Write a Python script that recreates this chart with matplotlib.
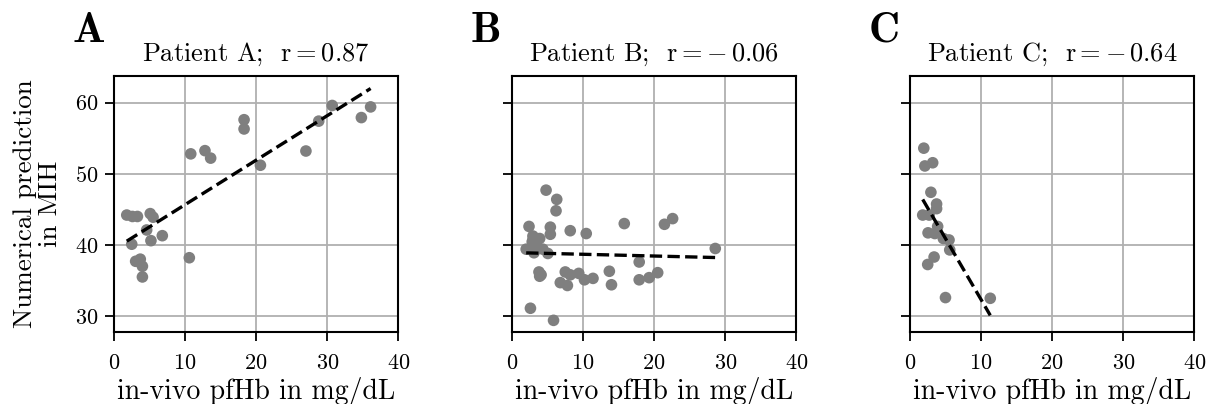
import numpy as np
import matplotlib
matplotlib.use("Agg")
import matplotlib.pyplot as plt

plt.rcParams.update({
	'font.family': 'serif',
	'font.serif': ['cmr10'],
	'mathtext.fontset': 'cm',
	'axes.formatter.use_mathtext': True,
	'font.size': 19,
})

# patient A
xa = [1.8, 2.6, 3.3, 5.1, 5.5, 4.6, 5.2, 6.8, 2.5, 3.05, 3.7, 4.0, 4.0, 10.6,
	10.8, 12.8, 13.6, 18.3, 18.3, 20.6, 27.0, 28.8, 30.7, 34.8, 36.1]
ya = [44.2, 44.0, 44.0, 44.4, 43.9, 42.1, 40.6, 41.3, 40.1, 37.7, 38.0, 37.0, 35.5, 38.2,
	52.8, 53.25, 52.2, 57.6, 56.3, 51.2, 53.2, 57.4, 59.6, 57.9, 59.4]
# patient B
xb = [4.8, 6.3, 6.2, 2.4, 5.4, 5.4, 2.95, 3.9, 2.85, 8.2, 10.45, 15.8, 21.45, 22.6,
	2.0, 3.1, 5.05, 3.5, 3.4, 4.35, 3.0, 28.6, 17.9, 3.8, 4.1, 3.9, 7.5, 8.2, 9.4, 10.2, 11.4,
	13.7, 14.0, 6.8, 7.8, 17.9, 19.3, 20.5, 2.6, 5.85]
yb = [47.7, 46.4, 44.8, 42.6, 42.5, 41.5, 41.25, 40.9, 40.45, 42.0, 41.6, 43.0, 42.9, 43.7,
	39.4, 38.9, 38.8, 39.75, 40.3, 39.4, 40.8, 39.5, 37.6, 36.2, 35.8, 35.6, 36.2, 35.8, 36.0, 35.1, 35.3,
	36.3, 34.4, 34.7, 34.3, 35.1, 35.4, 36.1, 31.1, 29.4]
# patient C
xc = [1.95, 2.1, 3.2, 2.95, 3.75, 3.75, 1.8, 2.7, 3.9, 2.55, 3.5, 4.7, 5.5, 5.6,
	3.4, 2.5, 5.0, 11.3]
yc = [53.6, 51.1, 51.55, 47.4, 45.75, 45.1, 44.2, 44.2, 42.6, 41.7, 41.6, 40.9, 40.7, 39.3,
	38.3, 37.25, 32.6, 32.5]

names = ['A', 'B', 'C']
r_text = ['0.87', '-0.06', '-0.64']
xs = [xa, xb, xc]
ys = [ya, yb, yc]

fig = plt.figure(figsize=(12.06, 4.04), dpi=100)
axes = []
for i in range(3):
	ax = fig.add_axes([0.0945 + i*0.33, 0.178, 0.2358, 0.634])
	axes.append(ax)
	x = np.array(xs[i])
	y = np.array(ys[i])
	ax.grid(color='#b0b0b0', lw=1.3, zorder=0)
	ax.scatter(x, y, s=70, color='#7f7f7f', edgecolors='none', zorder=2)
	k, b = np.polyfit(x, y, 1)
	xl = np.array([x.min(), x.max()])
	ax.plot(xl, k*xl + b, 'k--', lw=2.4, zorder=3)
	ax.set_xlim(0, 40)
	ax.set_ylim(27.75, 63.75)
	ax.set_xticks([0, 10, 20, 30, 40])
	ax.set_yticks([30, 40, 50, 60])
	ax.tick_params(labelsize=16, length=6.5, width=1.3, pad=5)
	ax.tick_params(axis='x', pad=9)
	for s in ax.spines.values():
		s.set_linewidth(1.5)
	ax.set_xlabel('in-vivo pfHb in mg/dL', fontsize=20, labelpad=3)
	r = r_text[i].replace('-', '-\\,')
	ax.set_title('Patient ' + names[i] + ';  $\\mathrm{r} = ' + r + '$', fontsize=19, pad=11)
	ax.text(-0.148, 1.133, '$\\mathbf{' + names[i] + '}$', transform=ax.transAxes,
		fontsize=31, ha='left', va='baseline')
	if i > 0:
		ax.tick_params(labelleft=False)
axes[0].set_ylabel('Numerical prediction\nin MIH', fontsize=19.5, linespacing=1.1, labelpad=9)

plt.savefig('out.png')
